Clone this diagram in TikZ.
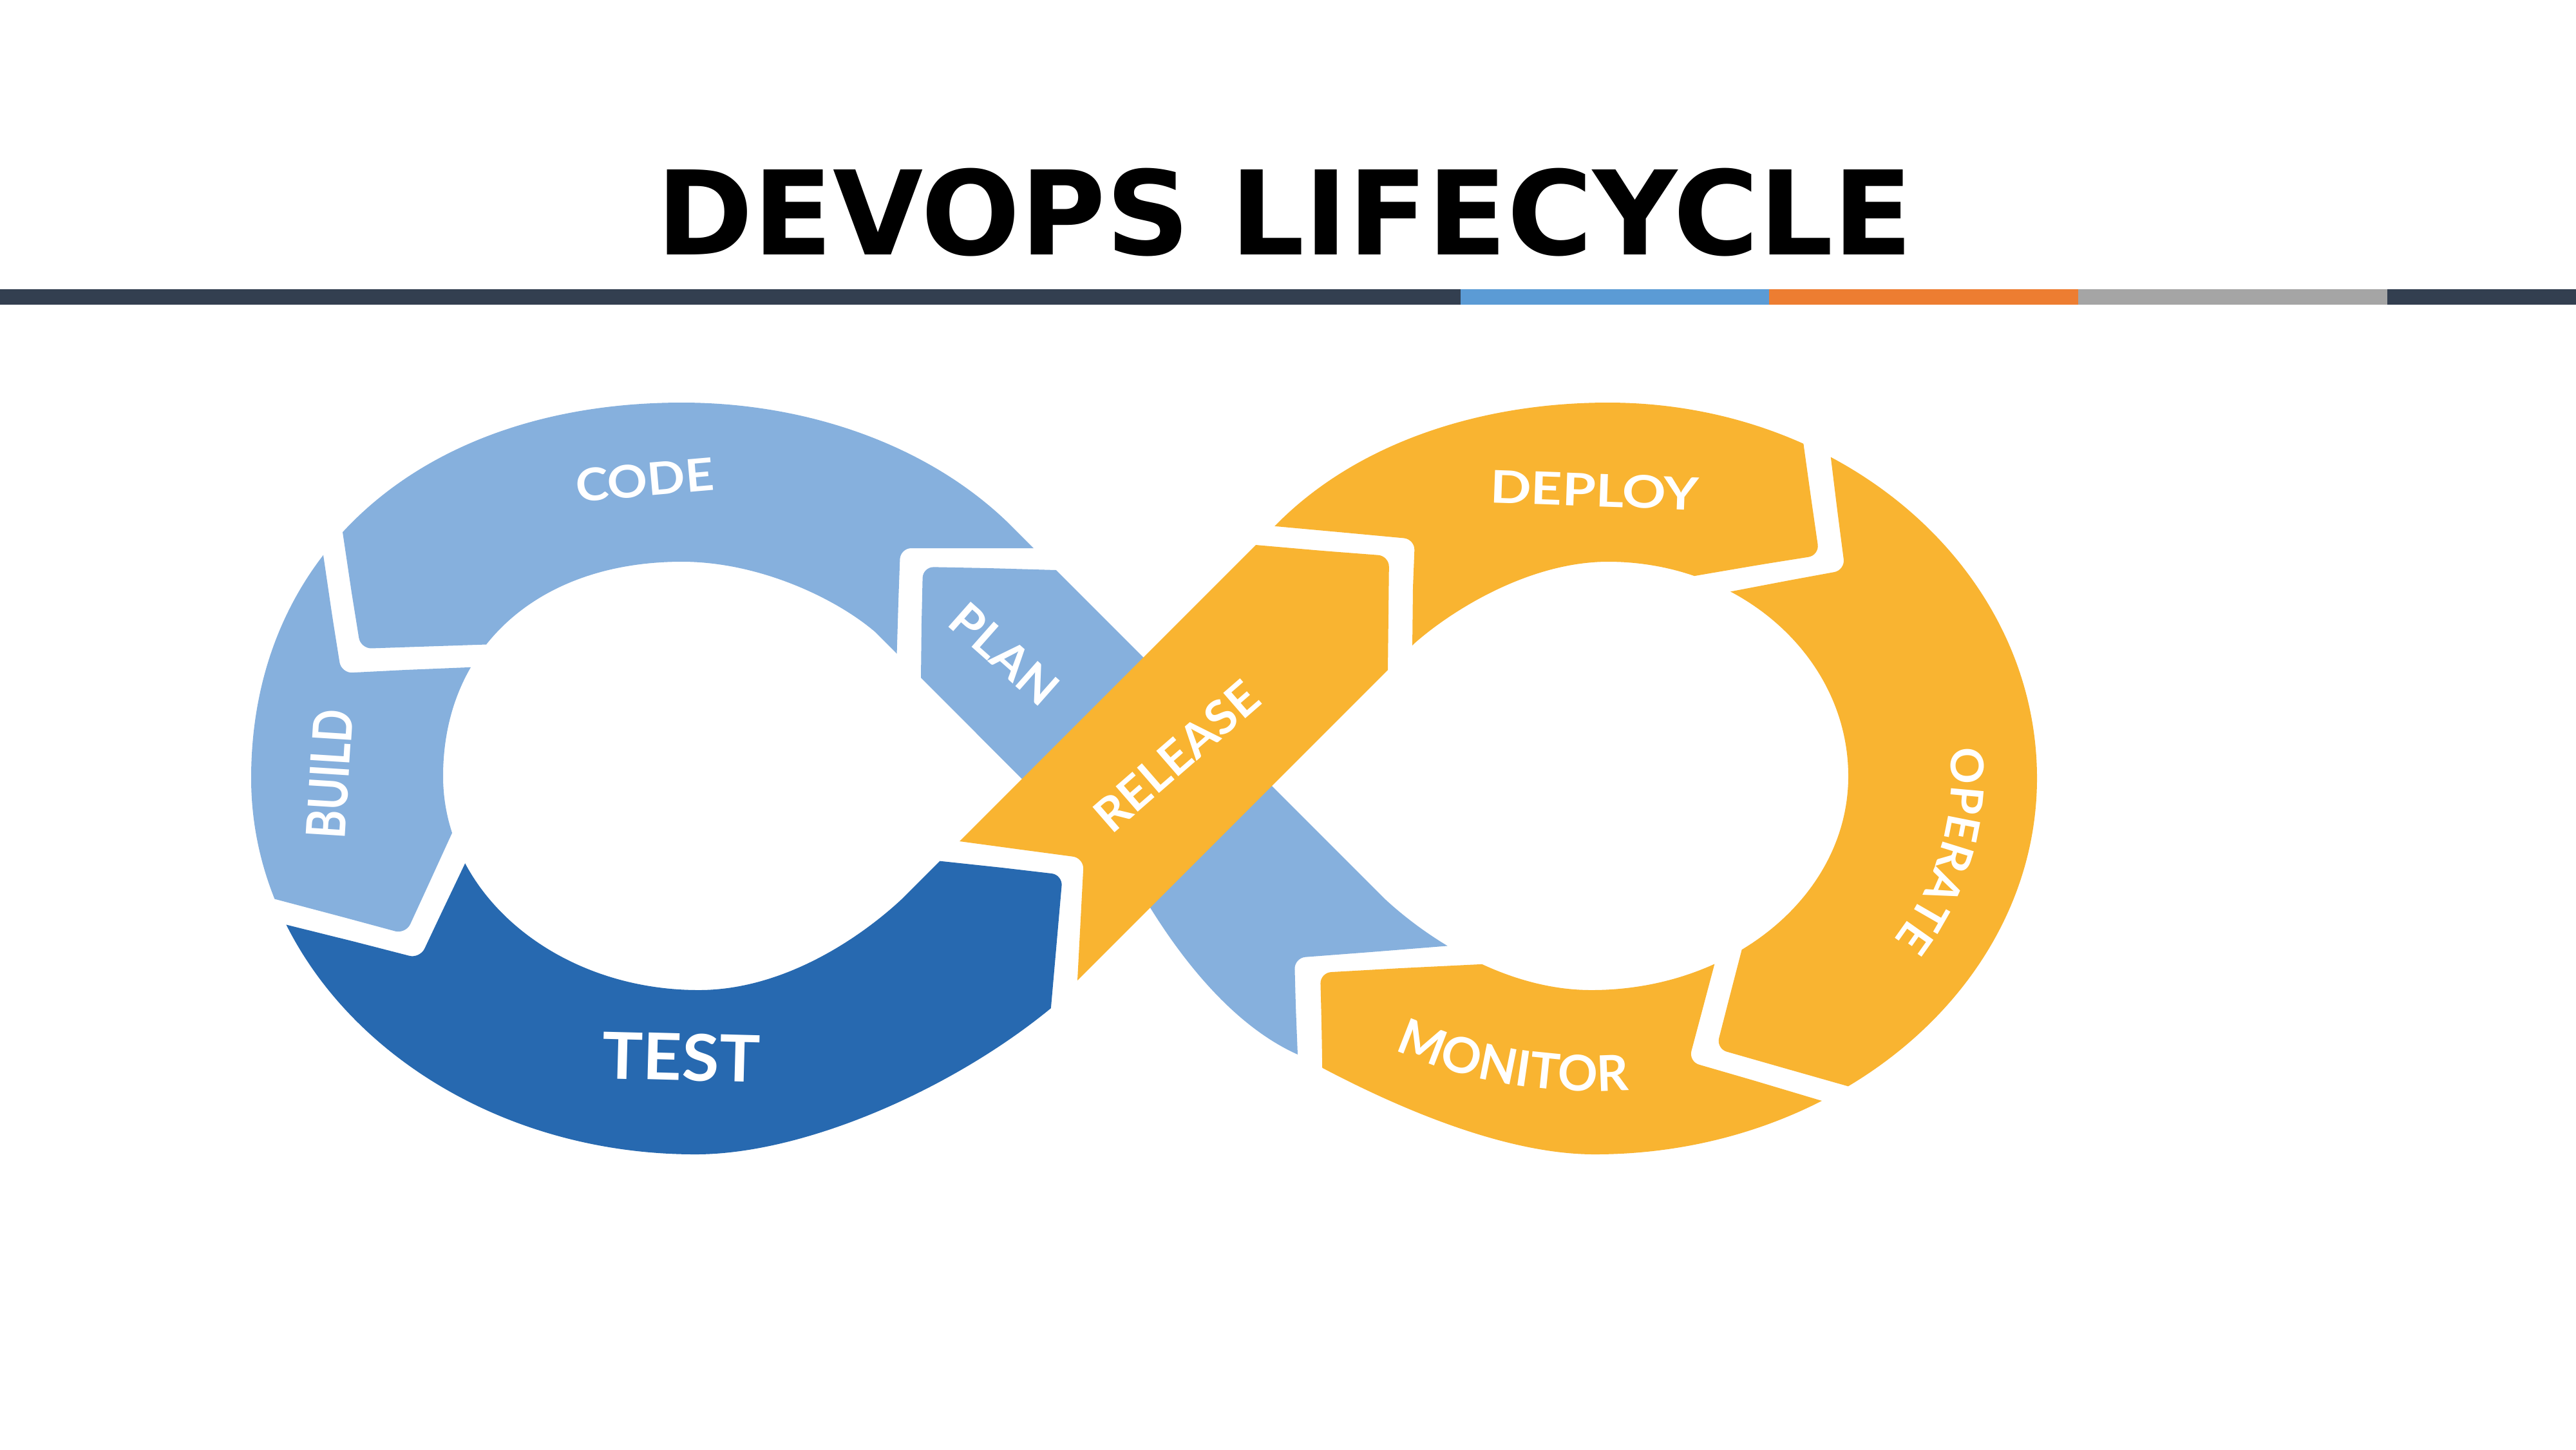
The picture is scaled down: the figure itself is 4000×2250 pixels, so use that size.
\documentclass[tikz,border=0pt]{standalone}
\usepackage{fontspec}
\setmainfont{Lato}
\newfontfamily\titlefont{DejaVu Sans}
\newfontfamily\labelfont{Lato}
\usetikzlibrary{decorations.text}

\newcommand\lblH{\labelfont\bfseries\fontsize{19.9pt}{20pt}\selectfont}
\newcommand\lblD{\labelfont\bfseries\fontsize{20.5pt}{21pt}\selectfont}
\newcommand\lblV{\labelfont\bfseries\fontsize{23.9pt}{24pt}\selectfont}
\newcommand\lblT{\labelfont\bfseries\fontsize{28.5pt}{29pt}\selectfont}
\newcommand\lblM{\labelfont\bfseries\fontsize{21.8pt}{22pt}\selectfont}
\newcommand\lblO{\labelfont\bfseries\fontsize{20pt}{21pt}\selectfont}

\definecolor{barDark}{HTML}{333F50}
\definecolor{barBlue}{HTML}{5B9BD5}
\definecolor{barOrange}{HTML}{ED7D31}
\definecolor{barGray}{HTML}{A5A5A5}
\definecolor{loopLight}{HTML}{86B0DD}
\definecolor{loopDark}{HTML}{2769B0}
\definecolor{loopGold}{HTML}{F9B431}

\tikzset{
  rc/.style={rounded corners=0.17cm},
  looplabel/.style={text=white, inner sep=0pt},
  % outline of the left loop and its hole
  leftouter/.style={insert path={(1800,1046) -- (1572,818) .. controls (1445,691) and (1253,625) .. (1059,625) .. controls (658,625) and (390,858) .. (390,1208) .. controls (390,1530) and (699,1792) .. (1080,1792) .. controls (1250,1792) and (1480,1690) .. (1632,1565) -- (1800,1395) -- cycle}},
  lefthole/.style={insert path={(1587,1209) -- (1360,982) .. controls (1300,930) and (1180,872) .. (1059,872) .. controls (836,872) and (688,1005) .. (688,1205) .. controls (688,1389) and (866,1537) .. (1085,1537) .. controls (1220,1537) and (1340,1452) .. (1400,1396) -- cycle}},
  % outline of the right loop and its hole
  rightouter/.style={insert path={(1760,1036) -- (1984,812) .. controls (2111,685) and (2303,625) .. (2497,625) .. controls (2865,625) and (3163,886) .. (3163,1208) .. controls (3163,1530) and (2855,1792) .. (2476,1792) .. controls (2330,1792) and (2150,1712) .. (2015,1637) .. controls (1910,1590) and (1830,1480) .. (1786,1409) -- (1760,1382) -- cycle}},
  righthole/.style={insert path={(1975,1220) -- (2196,999) .. controls (2256,946) and (2376,872) .. (2497,872) .. controls (2703,872) and (2870,1021) .. (2870,1205) .. controls (2870,1389) and (2691,1537) .. (2471,1537) .. controls (2336,1537) and (2215,1455) .. (2152,1397) -- cycle}},
}

\begin{document}
\begin{tikzpicture}[x=0.01cm, y=-0.01cm]
\useasboundingbox (0,0) rectangle (4000,2250);
\fill[white] (0,0) rectangle (4000,2250);

% heading
\node[anchor=base, inner sep=0pt, font=\titlefont\bfseries\fontsize{51.5pt}{52pt}\selectfont] (title) at (1995,395) {DEVOPS LIFECYCLE};

% coloured rule under the heading
\fill[barDark]   (0,449)    rectangle (2268,473);
\fill[barBlue]   (2268,449) rectangle (2747,473);
\fill[barOrange] (2747,449) rectangle (3227,473);
\fill[barGray]   (3227,449) rectangle (3707,473);
\fill[barDark]   (3707,449) rectangle (4000,473);

% ---- left loop ----
% CODE
\begin{scope}
  \clip (1390,1100) -- (1395,934) {[rc] -- (1398,851) -- (1500,851)} -- (1750,851) -- (1750,500) -- (500,500) -- (518,732) -- (546,920) {[rc] -- (560,1007) -- (650,1004)} -- (830,998) -- cycle;
  \fill[loopLight, even odd rule] [leftouter] [lefthole];
\end{scope}
% BUILD
\begin{scope}
  \clip (800,1033) -- (629,1040) {[rc] -- (530,1045) -- (516,957)} -- (490,780) -- (250,780) -- (250,1500) -- (330,1370) -- (530,1423) {[rc] -- (630,1450) -- (665,1374)} -- (740,1210) -- cycle;
  \fill[loopLight, even odd rule] [leftouter] [lefthole];
\end{scope}
% TEST
\begin{scope}
  \clip (1360,1326) -- (1556,1347) {[rc] -- (1650,1358) -- (1641,1461)} -- (1620,1700) -- (1620,1950) -- (300,1950) -- (350,1412) -- (551,1462) {[rc] -- (652,1488) -- (686,1416)} -- (761,1259) -- cycle;
  \fill[loopDark, even odd rule] [leftouter] [lefthole];
\end{scope}

% ---- crossing strap: PLAN (underneath) ----
\begin{scope}
  \clip (1431,966) {[rc] -- (1433,880) -- (1536,882)} -- (1640,885) -- (2152,1397) -- (2340,1397) -- (2340,1461) -- (2128,1478) {[rc] -- (2010,1487) -- (2012,1562)} -- (2015,1637) .. controls (1910,1590) and (1830,1480) .. (1786,1409) -- (1430,1052) -- cycle;
  \fill[loopLight, even odd rule] (0,0) rectangle (4000,2250) [righthole];
\end{scope}

% ---- right loop ----
% DEPLOY
\begin{scope}
  \clip (2192,1100) -- (2194,912) {[rc] -- (2197,837) -- (2090,827)} -- (1850,805) -- (1850,450) -- (2767,450) -- (2812,772) {[rc] -- (2825,862) -- (2731,877)} -- (2550,908) -- cycle;
  \fill[loopGold, even odd rule] [rightouter] [righthole];
\end{scope}
% OPERATE
\begin{scope}
  \clip (2600,935) -- (2778,901) {[rc] -- (2865,885) -- (2853,793)} -- (2822,540) -- (3300,540) -- (3300,1850) -- (2960,1712) -- (2763,1656) {[rc] -- (2665,1628) -- (2685,1550)} -- (2740,1338) -- cycle;
  \fill[loopGold, even odd rule] [rightouter] [righthole];
\end{scope}
% MONITOR
\begin{scope}
  \clip (2055,1760) -- (2150,1950) -- (2900,1950) -- (2923,1737) -- (2722,1677) {[rc] -- (2622,1648) -- (2642,1573)} -- (2680,1430) -- (2400,1492) -- (2175,1503) {[rc] -- (2050,1510) -- (2052,1586)} -- cycle;
  \fill[loopGold, even odd rule] [rightouter] [righthole];
\end{scope}

% ---- crossing strap: RELEASE (on top) ----
\fill[loopGold] (1586,1319) {[rc] -- (1683,1332) -- (1678,1427)} -- (1673,1522) -- (2155,1040) -- (2156,951) {[rc] -- (2157,863) -- (2053,855)} -- (1950,846) -- (1490,1306) -- cycle;

% ---- stage names ----
\node[looplabel, font=\lblH, rotate=5, xscale=1.1]      (code)    at (1001,745)  {CODE};
\node[looplabel, font=\lblH, rotate=-2, xscale=1.2]     (deploy)  at (2476,761)  {DEPLOY};
\node[looplabel, font=\lblD, rotate=-41.5, xscale=1.05] (plan)    at (1560,1015) {PLAN};
\node[looplabel, font=\lblD, rotate=41, xscale=1.05]    (release) at (1827,1174) {RELEASE};
\node[looplabel, font=\lblV, rotate=86.4, xscale=0.8]   (build)   at (512,1202)  {BUILD};
\node[looplabel, font=\lblT, rotate=-1.5, xscale=1.05]  (test)    at (1058,1641) {TEST};

% curved names follow the ring of the right loop
\path[decorate, decoration={text along path, text={|\lblM|MONITOR}, text align=center, text color=white}]
  (2012.8,1532.2) .. controls (2098.2,1606.8) and (2210.7,1658.9) .. (2335.1,1681.5)
  .. controls (2459.5,1704.1) and (2589.7,1696.0) .. (2708.0,1658.4);
\path[decorate, decoration={text along path, text={|\lblO|OPERATE}, text align=center, text color=white}]
  (2990.7,1032.7) .. controls (3032.8,1121.5) and (3041.3,1219.3) .. (3015.1,1312.4)
  .. controls (2988.9,1405.5) and (2929.1,1489.4) .. (2844.3,1552.2);
\end{tikzpicture}
\end{document}
